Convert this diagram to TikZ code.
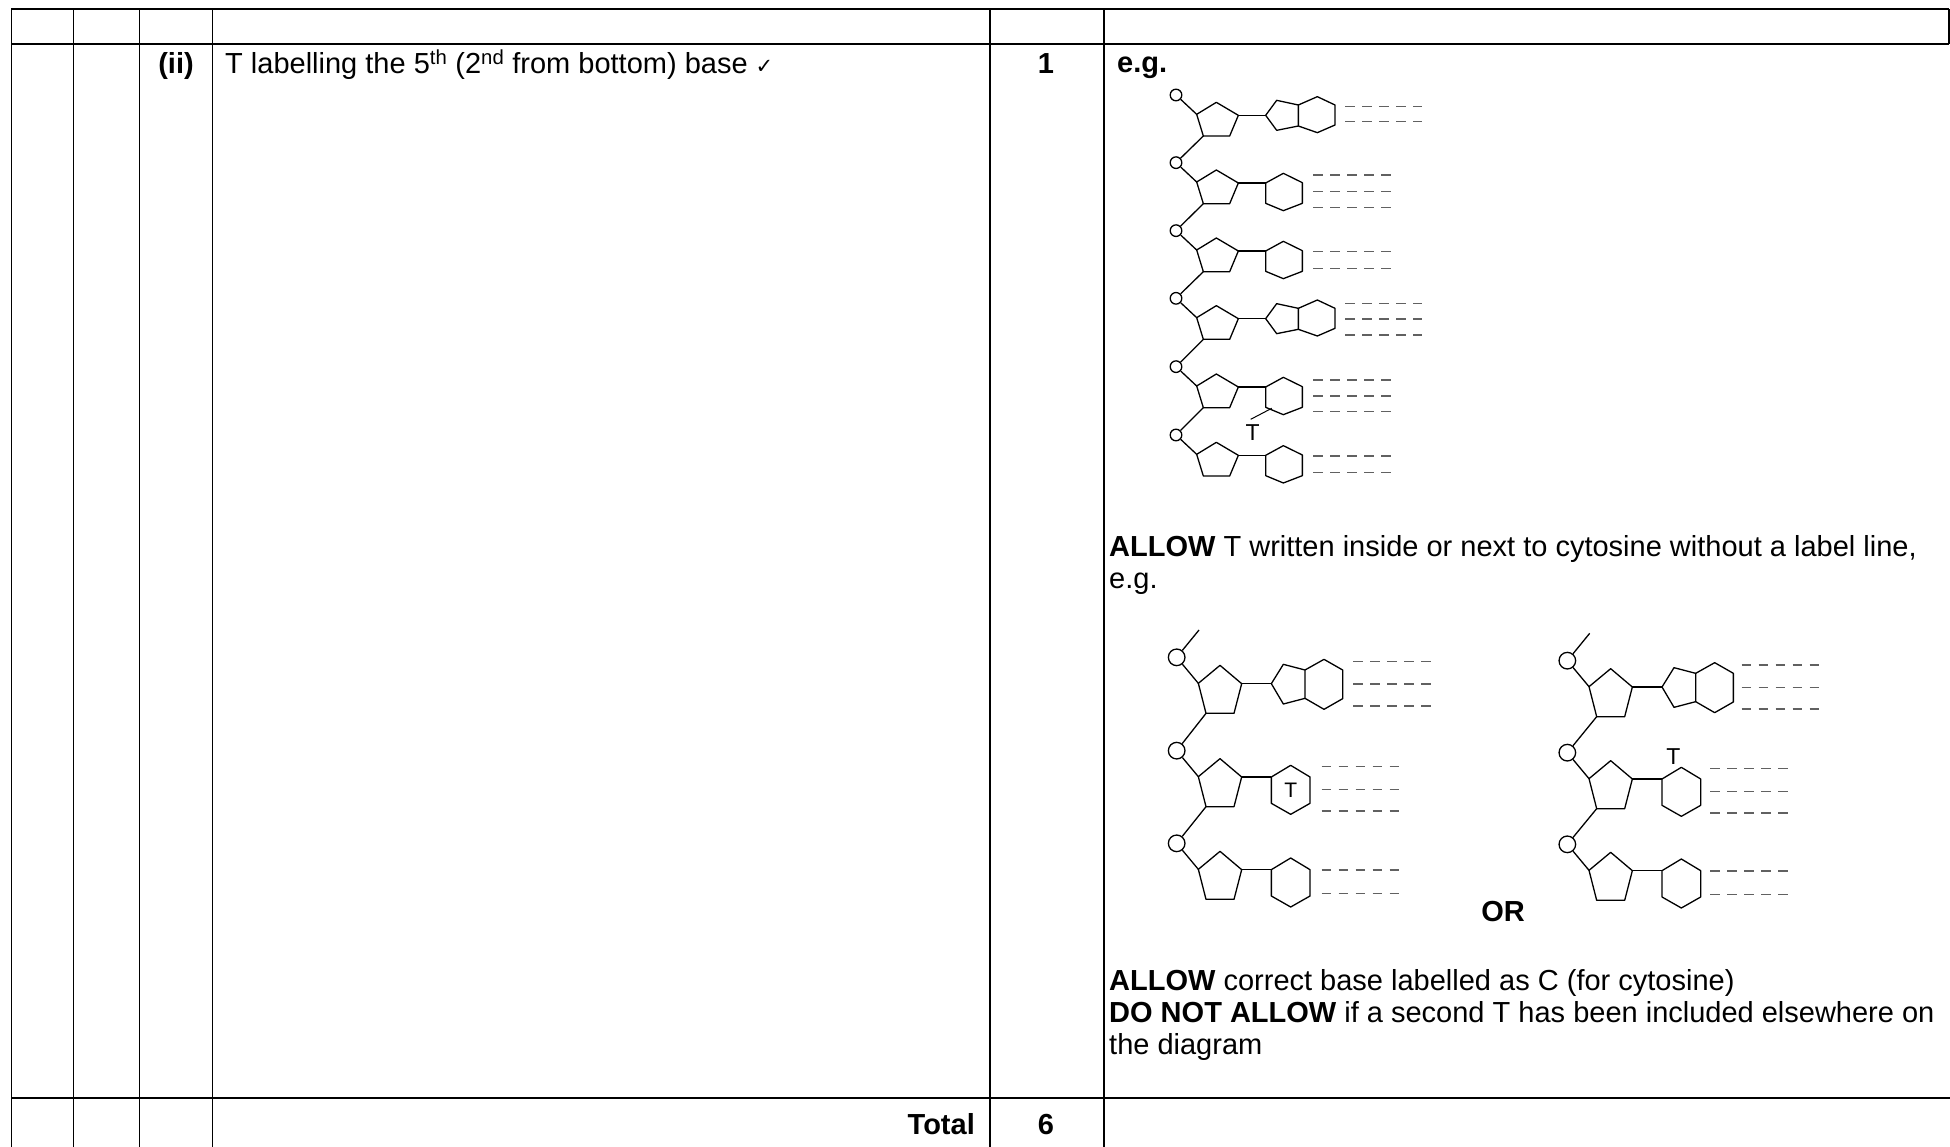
\documentclass[tikz,border=0pt]{standalone}
\usepackage{fontspec}
\setmainfont{Liberation Sans}
\newfontfamily\symfont{DejaVu Sans}
\newcommand{\txtsize}{\fontsize{29}{32}\selectfont}
% diagram 1 parts (zoom units, 1 unit = 1/3 px)
\newcommand{\nucA}[4]{%
  \begin{scope}[shift={(#2,#3)}]
    \node[phos, minimum size=11.6pt] (#1c) at (0,0) {};
    \coordinate (#1l) at (62,58);
    \coordinate (#1bl) at (82,123);
    \coordinate (#1r) at (187,61);
    \coordinate (#1b) at (269,61);
    \draw[dna] (#1l) -- (121,22) -- (#1r) -- (161,123) -- (#1bl) -- cycle;
    \draw[dna] (#1c) -- (#1l);
    \draw[dna] (#1r) -- (#1b);
    #4
  \end{scope}}
\newcommand{\purA}{\draw[dna] (269,61) -- (302,16) -- (367,30) -- (367,93) -- (302,106) -- cycle;
  \draw[dna] (367,30) -- (424,5) -- (477,30) -- (477,90) -- (424,113) -- (367,93);}
\newcommand{\pyrA}{\draw[dna] (269,61) -- (322,32) -- (379,60) -- (379,122) -- (322,144) -- (269,122) -- cycle;}
\newcommand{\pairsA}[2]{\foreach \yy in {#2} {\draw[pairs] (#1,\yy) -- ++(232,0);}}
% diagrams 2 and 3 parts
\newcommand{\nucB}[4]{%
  \begin{scope}[shift={(#2,#3)}]
    \node[phos, minimum size=16.6pt] (#1c) at (0,0) {};
    \coordinate (#1l) at (65,78);
    \coordinate (#1bl) at (88,168);
    \coordinate (#1r) at (195,79);
    \coordinate (#1b) at (284,79);
    \coordinate (#1top) at (67,-82);
    \draw[dna] (#1l) -- (130,24) -- (#1r) -- (172,168) -- (#1bl) -- cycle;
    \draw[dna] (#1c) -- (#1l);
    \draw[dna] (#1r) -- (#1b);
    #4
  \end{scope}}
\newcommand{\purB}{\draw[dna] (284,79) -- (320,21) -- (385,38) -- (385,123) -- (320,140) -- cycle;
  \draw[dna] (385,38) -- (442,6) -- (498,38) -- (498,124) -- (442,156) -- (385,123);}
\newcommand{\pyrB}{\draw[dna] (284,79) -- (342,44) -- (400,79) -- (400,158) -- (342,191) -- (284,158) -- cycle;}
\newcommand{\pairsB}[2]{\foreach \yy in {#2} {\draw[pairs] (#1,\yy) -- ++(240,0);}}
\begin{document}
\begin{tikzpicture}[x=1pt,y=-1pt,
  hline/.style={line width=2.2pt},
  vline/.style={line width=1.8pt},
  txt/.style={inner sep=0pt, anchor=base west, font=\txtsize},
  btxt/.style={inner sep=0pt, anchor=base west, font=\txtsize\bfseries},
  dna/.style={line width=1.3pt, line join=round},
  phos/.style={circle, draw, line width=1.3pt, inner sep=0pt},
  pairs/.style={line width=1.5pt, dash pattern=on 9.5pt off 7.5pt, black!62},
  tlab/.style={inner sep=0pt, font=\fontsize{23}{23}\selectfont}]
\useasboundingbox (0,0) rectangle (1950,1147);
\clip (0,0) rectangle (1950,1147);
% table
\draw[hline] (11,9) -- (1949,9);
\draw[hline] (11,44) -- (1949,44);
\draw[hline] (11,1098) -- (1950,1098);
\foreach \x in {11.5,73.5,139.5,212.5,990,1104} {\draw[vline] (\x,9) -- (\x,1147);}
\draw[vline] (1949,9) -- (1949,44);
% texts
\node[btxt, anchor=base] (ii) at (176,74) {(ii)};
\node[txt] (mark) at (225,74) {T labelling the 5\textsuperscript{th} (2\textsuperscript{nd} from bottom) base {\symfont\fontsize{21}{21}\selectfont ✓}};
\node[btxt, anchor=base] (one) at (1046,74) {1};
\node[btxt] (eg1) at (1117,73) {e.g.};
\node[txt] (allow1) at (1109,556) {\textbf{ALLOW} T written inside or next to cytosine without a label line,};
\node[txt] (eg2) at (1109,588) {e.g.};
\node[btxt, anchor=base] (or) at (1503,921) {OR};
\node[txt] (allow2) at (1109,990) {\textbf{ALLOW} correct base labelled as C (for cytosine)};
\node[txt] (dna3) at (1109,1022) {\textbf{DO NOT ALLOW} if a second T has been included elsewhere on};
\node[txt] (diag) at (1109,1054) {the diagram};
\node[btxt, anchor=base east] (total) at (975,1134) {Total};
\node[btxt, anchor=base] (six) at (1046,1134) {6};
% diagram 1
\begin{scope}[shift={(1100,40)}, x=0.33333pt, y=-0.33333pt]
  \nucA{a1}{228}{165}{\purA \pairsA{507}{35,80}}
  \nucA{a2}{228}{368}{\pyrA \pairsA{412}{37,87,135}}
  \nucA{a3}{228}{572}{\pyrA \pairsA{412}{63,113}}
  \nucA{a4}{228}{775}{\purA \pairsA{507}{15,62,110}}
  \nucA{a5}{228}{980}{\pyrA \pairsA{412}{40,88,135}
     \coordinate (a5lab) at (287,125);
     \node[tlab] (a5t) at (230,198) {T};
     \draw[line width=1pt] (a5lab) -- (224,158);}
  \nucA{a6}{228}{1185}{\pyrA \pairsA{412}{63,113}}
  \foreach \p/\q in {a1/a2,a2/a3,a3/a4,a4/a5,a5/a6} {\draw[dna] (\p bl) -- (\q c);}
\end{scope}
% diagram 2
\begin{scope}[shift={(1120,600)}, x=0.33333pt, y=-0.33333pt]
  \nucB{b1}{170}{172}{\purB \pairsB{530}{13,80,146}}
  \nucB{b2}{170}{452}{\pyrB \pairsB{435}{48,116,181}
     \node[tlab, font=\fontsize{21}{21}\selectfont] (b2t) at (342,118) {T};}
  \nucB{b3}{170}{730}{\pyrB \pairsB{435}{80,150}}
  \draw[dna] (b1c) -- (b1top);
  \draw[dna] (b1bl) -- (b2c);
  \draw[dna] (b2bl) -- (b3c);
\end{scope}
% diagram 3
\begin{scope}[shift={(1520,600)}, x=0.33333pt, y=-0.33333pt]
  \nucB{c1}{142}{182}{\purB \pairsB{523}{13,80,145}}
  \nucB{c2}{142}{458}{\pyrB \pairsB{428}{48,116,181}
     \node[tlab] (c2t) at (318,12) {T};}
  \nucB{c3}{142}{733}{\pyrB \pairsB{428}{80,150}}
  \draw[dna] (c1c) -- (c1top);
  \draw[dna] (c1bl) -- (c2c);
  \draw[dna] (c2bl) -- (c3c);
\end{scope}
\end{tikzpicture}
\end{document}
